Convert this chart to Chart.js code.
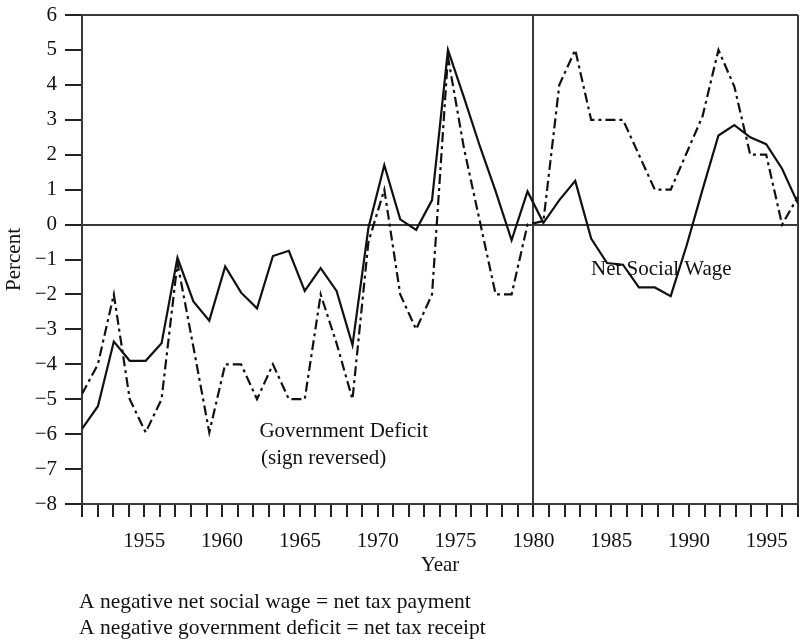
<!DOCTYPE html>
<html>
<head>
<meta charset="utf-8">
<script src="https://cdn.jsdelivr.net/npm/chart.js@4.4.1/dist/chart.umd.min.js"></script>
<style>
  html, body { margin: 0; padding: 0; background: #ffffff; }
  #wrap { width: 802px; height: 640px; }
</style>
</head>
<body>
<div id="wrap"><canvas id="c" width="802" height="640"></canvas></div>
<script>
// ---- data ----
const years = [1951,1952,1953,1954,1955,1956,1957,1958,1959,1960,
               1961,1962,1963,1964,1965,1966,1967,1968,1969,1970,
               1971,1972,1973,1974,1975,1976,1977,1978,1979,1980,
               1981,1982,1983,1984,1985,1986,1987,1988,1989,1990,
               1991,1992,1993,1994,1995,1996];

// Net social wage (solid line)
const netSocialWage = [-5.85,-5.2,-3.35,-3.9,-3.9,-3.4,-0.95,-2.2,-2.75,-1.2,
                       -1.95,-2.4,-0.9,-0.75,-1.9,-1.25,-1.9,-3.45,-0.1,1.7,
                       0.15,-0.15,0.7,5.0,3.65,2.25,0.95,-0.45,0.95,0.05,
                       0.7,1.25,-0.4,-1.1,-1.15,-1.8,-1.8,-2.05,-0.6,1.0,
                       2.55,2.85,2.5,2.3,1.6,0.6];

// Government deficit, sign reversed (dash-dot line)
const govDeficitReversed = [-4.85,-4.0,-2.0,-5.0,-5.95,-5.0,-1.1,-3.5,-5.95,-4.0,
                            -4.0,-5.0,-4.0,-5.0,-5.0,-2.0,-3.4,-5.0,-0.5,1.0,
                            -2.0,-3.0,-2.0,4.8,2.2,0.1,-2.0,-2.0,0.0,0.1,
                            4.0,5.0,3.0,3.0,3.0,2.0,1.0,1.0,2.05,3.1,
                            5.0,3.95,2.0,2.0,0.0,0.8];

const axisYearMin = 1951;
const axisYearMax = 1997;
const yMin = -8;
const yMax = 6;
const dividerYear = 1980;

const annotations = [
  { text: 'Net Social Wage', year: 1983.7, value: -1.44 },
  { text: 'Government Deficit', year: 1962.4, value: -6.08 },
  { text: '(sign reversed)', year: 1962.5, value: -6.85 }
];
const notes = [
  'A negative net social wage = net tax payment',
  'A negative government deficit = net tax receipt'
];

// ---- chart ----
const FONT = "'Liberation Serif', 'Times New Roman', serif";
const FRAME = '#3a3a3a';
Chart.defaults.font.family = FONT;
Chart.defaults.font.size = 21;
Chart.defaults.color = '#111';

const toPoints = vals => years.map((yr, i) => ({ x: yr, y: vals[i] }));
const fmt = v => (v < 0 ? '\u2212' + Math.abs(v) : String(v));

const textPlugin = {
  id: 'textPlugin',
  afterDraw(chart) {
    const { ctx, scales } = chart;
    const x = scales.x, y = scales.y;
    ctx.save();
    ctx.font = '21px ' + FONT;
    ctx.fillStyle = '#111';
    ctx.textAlign = 'left';
    ctx.textBaseline = 'alphabetic';
    annotations.forEach(a => {
      ctx.fillText(a.text, x.getPixelForValue(a.year), y.getPixelForValue(a.value));
    });
    ctx.font = '21.5px ' + FONT;
    notes.forEach((t, i) => {
      ctx.fillText(t, chart.chartArea.left - 3, chart.height - 32 + i * 26);
    });
    ctx.restore();
  }
};

new Chart(document.getElementById('c'), {
  type: 'line',
  data: {
    datasets: [
      {
        label: 'Net Social Wage',
        data: toPoints(netSocialWage),
        xAxisID: 'xd',
        borderColor: '#111',
        borderWidth: 2.2,
        pointRadius: 0,
        tension: 0,
        fill: false
      },
      {
        label: 'Government Deficit (sign reversed)',
        data: toPoints(govDeficitReversed),
        xAxisID: 'xd',
        borderColor: '#111',
        borderWidth: 2.2,
        borderDash: [10, 4, 3, 4],
        pointRadius: 0,
        tension: 0,
        fill: false
      }
    ]
  },
  options: {
    responsive: false,
    animation: false,
    devicePixelRatio: 1,
    layout: { padding: { left: 0, right: 4, top: 15, bottom: 56 } },
    plugins: {
      legend: { display: false },
      tooltip: { enabled: false }
    },
    scales: {
      xd: {
        type: 'linear',
        axis: 'x',
        position: 'bottom',
        display: false,
        min: years[0],
        max: years[years.length - 1]
      },
      x: {
        type: 'linear',
        position: 'bottom',
        min: axisYearMin,
        max: axisYearMax,
        afterFit: s => { s.height = 80; s.paddingLeft = 0; s.paddingRight = 0; },
        ticks: {
          stepSize: 1,
          autoSkip: false,
          maxRotation: 0,
          padding: 12,
          callback: v => (v % 5 === 0 ? String(v) : '')
        },
        grid: {
          drawOnChartArea: true,
          color: c => (c.tick && (c.tick.value === dividerYear || c.tick.value === axisYearMax) ? FRAME : 'rgba(0,0,0,0)'),
          lineWidth: 2,
          tickColor: '#222',
          tickWidth: 2,
          tickLength: 13
        },
        border: { display: true, color: FRAME, width: 2 },
        title: {
          display: true,
          text: 'Year',
          font: { size: 21 },
          padding: { top: 0, bottom: 6 }
        }
      },
      y: {
        type: 'linear',
        min: yMin,
        max: yMax,
        afterFit: s => { s.width = 82; s.paddingTop = 0; s.paddingBottom = 0; },
        ticks: {
          stepSize: 1,
          padding: 8,
          callback: v => fmt(v)
        },
        grid: {
          drawOnChartArea: true,
          color: c => (c.tick && (c.tick.value === 0 || c.tick.value === yMax) ? FRAME : 'rgba(0,0,0,0)'),
          lineWidth: 2,
          tickColor: '#222',
          tickWidth: 2,
          tickLength: 17
        },
        border: { display: true, color: FRAME, width: 2 },
        title: {
          display: true,
          text: 'Percent',
          font: { size: 21 },
          padding: { top: 2, bottom: 0 }
        }
      }
    }
  },
  plugins: [textPlugin]
});
</script>
</body>
</html>
